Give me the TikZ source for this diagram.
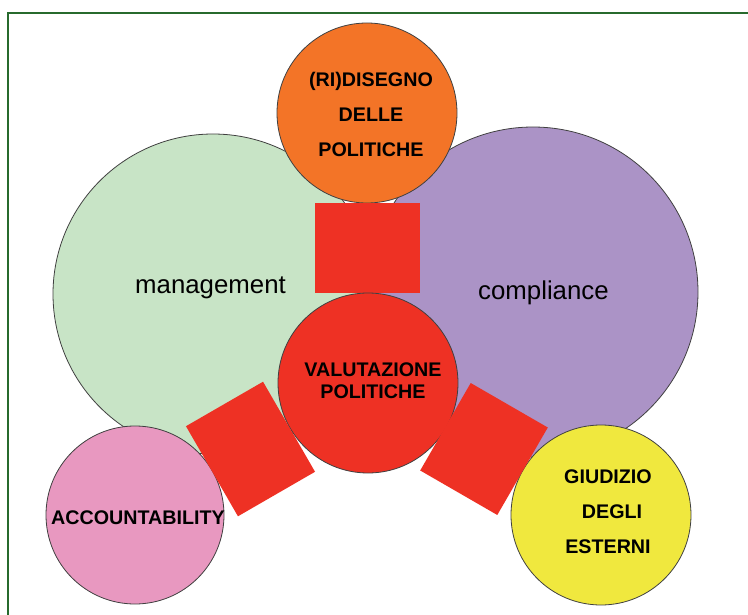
\documentclass[tikz,border=0pt]{standalone}
\usepackage{fontspec}
\setmainfont{Liberation Sans}
\definecolor{greenc}{HTML}{C8E4C6}
\definecolor{purplec}{HTML}{AB93C6}
\definecolor{orangec}{HTML}{F37427}
\definecolor{redc}{HTML}{EE3124}
\definecolor{pinkc}{HTML}{E898C0}
\definecolor{yellowc}{HTML}{F0E83E}
\definecolor{framec}{HTML}{276A2D}
\begin{document}
\begin{tikzpicture}[x=1pt,y=1pt,
  bub/.style={circle, draw=black!75, line width=0.8pt, inner sep=0pt, minimum size=#1},
  blk/.style={fill=redc, inner sep=0pt},
  capt/.style={font=\fontsize{19.7}{21}\selectfont\bfseries, inner sep=0pt, anchor=base},
  word/.style={font=\fontsize{25.8}{28}\selectfont, inner sep=0pt, anchor=base west}]
\useasboundingbox (0,0) rectangle (748,-615);
\fill[white] (0,0) rectangle (748,-615);
\node[bub=320pt, fill=greenc] (man) at (213,-294) {};
\node[bub=330pt, fill=purplec] (comp) at (533,-292) {};
\node[bub=180pt, fill=orangec] (ri) at (367,-113) {};
\node[blk, minimum width=105pt, minimum height=90pt] (sq1) at (367.5,-248) {};
\node[bub=180pt, fill=redc] (val) at (368,-383) {};
\node[bub=178pt, fill=pinkc] (acc) at (135,-515) {};
\node[bub=180pt, fill=yellowc] (giu) at (601,-515) {};
\node[blk, minimum width=89pt, minimum height=104pt, rotate=30] (sq2) at (250.5,-449) {};
\node[blk, minimum width=89pt, minimum height=101pt, rotate=-30] (sq3) at (484,-449) {};
% texts
\node[word] (tman) at (135,-294) {management};
\node[word] (tcomp) at (478,-300) {compliance};
\node[capt] (tri1) at (371,-87) {(RI)DISEGNO};
\node[capt] (tri2) at (371,-122) {DELLE};
\node[capt] (tri3) at (371,-157) {POLITICHE};
\node[capt] (tval1) at (373,-376) {VALUTAZIONE};
\node[capt] (tval2) at (373,-398) {POLITICHE};
\node[capt] (tacc) at (138,-524) {ACCOUNTABILITY};
\node[capt] (tgiu1) at (608,-483) {GIUDIZIO};
\node[capt] (tgiu2) at (612,-518) {DEGLI};
\node[capt] (tgiu3) at (608,-553) {ESTERNI};
% frame
\draw[framec, line width=2pt] (7.5,-615) -- (7.5,-13) -- (748,-13);
\end{tikzpicture}
\end{document}
